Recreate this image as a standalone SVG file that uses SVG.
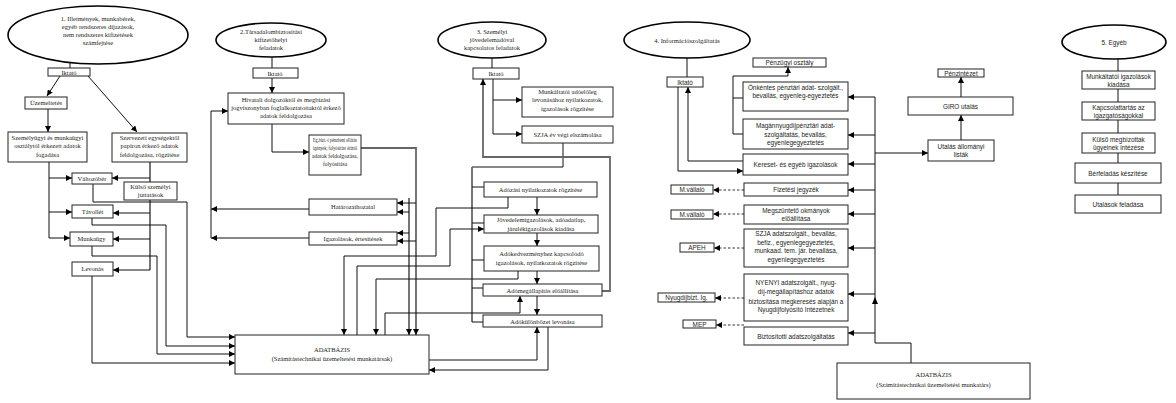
<svg xmlns="http://www.w3.org/2000/svg" width="1176" height="403" viewBox="0 0 1176 403">
<style>
.bg{fill:#fff}
.b{fill:#fff;stroke:#222;stroke-width:1}
.e{fill:#fff;stroke:#000;stroke-width:1.6}
.c{fill:none;stroke:#111;stroke-width:1}
.t{fill:none;stroke:#666;stroke-width:1.8}
.d{fill:none;stroke:#333;stroke-width:1;stroke-dasharray:2.5,2}
.s{font-family:"Liberation Serif","Times New Roman",serif;font-size:6.5px;fill:#222;text-anchor:middle}
.n{font-family:"Liberation Sans",Arial,sans-serif;font-size:6.4px;fill:#222;text-anchor:middle}
</style>
<defs>
<marker id="a" viewBox="0 0 10 10" refX="10" refY="5" markerWidth="6" markerHeight="6" markerUnits="userSpaceOnUse" orient="auto"><path d="M0,0 L10,5 L0,10 z" fill="#000"/></marker>
</defs>
<rect class="bg" x="0" y="0" width="1176" height="403"/>

<g id="connectors">
<!-- section 1 -->
<path class="c" d="M70,62 V68"/>
<path class="c" d="M60,76 L47,96" marker-end="url(#a)"/>
<path class="c" d="M88,76 L137,132" marker-end="url(#a)"/>
<path class="c" d="M48,109 V132" marker-end="url(#a)"/>
<path class="c" d="M49,162 V238"/>
<path class="c" d="M49,178 H72" marker-end="url(#a)"/>
<path class="c" d="M49,212 H72" marker-end="url(#a)"/>
<path class="c" d="M49,238 H70" marker-end="url(#a)"/>
<path class="t" d="M150,162 V270"/>
<path class="c" d="M150,178 H112" marker-end="url(#a)"/>
<path class="c" d="M150,213 H113" marker-end="url(#a)"/>
<path class="c" d="M150,239 H113" marker-end="url(#a)"/>
<path class="c" d="M150,270 H113" marker-end="url(#a)"/>
<path class="c" d="M93,184 V202 H187 V337 H235" marker-end="url(#a)"/>
<path class="c" d="M92,218 V225 H166 V346 H235" marker-end="url(#a)"/>
<path class="c" d="M92,246 V256 H157 V354 H235" marker-end="url(#a)"/>
<path class="c" d="M92,276 V363 H235" marker-end="url(#a)"/>
<!-- section 2 -->
<path class="c" d="M272,57 V68"/>
<path class="c" d="M272,78 V93" marker-end="url(#a)"/>
<path class="c" d="M272,124 V152 H309" marker-end="url(#a)"/>
<path class="t" d="M361,148 H416 V335" marker-end="url(#a)"/>
<path class="t" d="M409,198 V335" marker-end="url(#a)"/>
<path class="c" d="M416,203 H397" marker-end="url(#a)"/>
<path class="c" d="M409,212 H397" marker-end="url(#a)"/>
<path class="c" d="M409,233 H397" marker-end="url(#a)"/>
<path class="c" d="M416,241 H397" marker-end="url(#a)"/>
<path class="c" d="M309,209 H211" marker-end="url(#a)"/>
<path class="c" d="M309,238 H211" marker-end="url(#a)"/>
<path class="c" d="M211,238 V111 H228" marker-end="url(#a)"/>
<!-- section 3 -->
<path class="c" d="M492,58 V68"/>
<path class="c" d="M493,79 V134"/>
<path class="c" d="M493,100 H522" marker-end="url(#a)"/>
<path class="c" d="M493,134 H522" marker-end="url(#a)"/>
<path class="c" d="M563,143 V167 H472"/>
<path class="t" d="M472,167 V322"/>
<path class="c" d="M472,187 H484 M472,223 H484 M472,260 H484 M472,288 H483 M472,322 H483"/>
<path class="t" d="M602,291 H610 V157 H483 V79" marker-end="url(#a)"/>
<path class="c" d="M537,197 V215" marker-end="url(#a)"/>
<path class="c" d="M537,233 V246" marker-end="url(#a)"/>
<path class="c" d="M537,271 V284" marker-end="url(#a)"/>
<path class="c" d="M537,296 V315" marker-end="url(#a)"/>
<path class="c" d="M508,197 V208 H436 V256 H344 V335" marker-end="url(#a)"/>
<path class="c" d="M518,271 V279 H376 V335" marker-end="url(#a)"/>
<path class="c" d="M357,335 V266 H450 V229 H484" marker-end="url(#a)"/>
<path class="c" d="M385,335 V313 H520 V296" marker-end="url(#a)"/>
<path class="c" d="M429,360 H537 V327" marker-end="url(#a)"/>
<path class="c" d="M548,327 V370 H429" marker-end="url(#a)"/>
<!-- section 4 -->
<path class="c" d="M687,58 V77"/>
<path class="c" d="M678,87 V171 H743" marker-end="url(#a)"/>
<path class="c" d="M743,161 H688 V87" marker-end="url(#a)"/>
<path class="c" d="M733,134 V76 H788 V67" marker-end="url(#a)"/>
<path class="c" d="M733,98 H743 M733,134 H743"/>
<path class="d" d="M744,190 H713" marker-end="url(#a)"/>
<path class="d" d="M744,214 H713" marker-end="url(#a)"/>
<path class="d" d="M744,248 H714" marker-end="url(#a)"/>
<path class="d" d="M744,298 H715" marker-end="url(#a)"/>
<path class="d" d="M744,325 H716" marker-end="url(#a)"/>
<path class="c" d="M911,363 V343 H875 V97"/>
<path d="M875,297 L878,304 L872,304 z" fill="#000"/>
<path class="c" d="M875,97 H848" marker-end="url(#a)"/>
<path class="c" d="M875,135 H848" marker-end="url(#a)"/>
<path class="c" d="M875,164 H848" marker-end="url(#a)"/>
<path class="c" d="M875,190 H848" marker-end="url(#a)"/>
<path class="c" d="M875,214 H848" marker-end="url(#a)"/>
<path class="c" d="M875,248 H848" marker-end="url(#a)"/>
<path class="c" d="M875,294 H848" marker-end="url(#a)"/>
<path class="c" d="M875,333 H848" marker-end="url(#a)"/>
<path class="c" d="M875,153 H928" marker-end="url(#a)"/>
<path class="c" d="M961,140 V115" marker-end="url(#a)"/>
<path class="c" d="M961,97 V77" marker-end="url(#a)"/>
<!-- section 5 -->
<path class="c" d="M1118,59 V195"/>
</g>

<!-- Section 1 -->
<g id="ell1"><ellipse class="e" cx="98" cy="35" rx="90" ry="29"/>
<text class="s"><tspan x="98" y="21">1. Illetmények, munkabérek,</tspan><tspan x="98" y="29">egyéb rendszeres díjazások,</tspan><tspan x="98" y="37">nem rendszeres kifizetések</tspan><tspan x="98" y="45">számfejtése</tspan></text></g>
<g id="iktato1"><rect class="b" x="48" y="68" width="42" height="8"/><text class="s" x="69" y="74.5">Iktató</text></g>
<g id="uzem"><rect class="b" x="25" y="97" width="42" height="12"/><text class="s" x="46" y="105">Üzemeltetés</text></g>
<g id="szemely"><rect class="b" x="8" y="132" width="79" height="30"/><text class="s"><tspan x="47.5" y="140">Személyügyi és munkaügyi</tspan><tspan x="47.5" y="148">osztálytól érkezett adatok</tspan><tspan x="47.5" y="157">fogadása</tspan></text></g>
<g id="szervezeti"><rect class="b" x="112" y="133" width="75" height="29"/><text class="s"><tspan x="149.5" y="140">Szervezeti egységektől</tspan><tspan x="149.5" y="148">papíron érkező adatok</tspan><tspan x="149.5" y="157">feldolgozása, rögzítése</tspan></text></g>
<g id="valtozober"><rect class="b" x="72" y="173" width="40" height="11"/><text class="s" x="92" y="181">Változóbér</text></g>
<g id="kulso"><rect class="b" x="124" y="182" width="53" height="18"/><text class="s"><tspan x="150.5" y="189">Külső személyi</tspan><tspan x="150.5" y="197">juttatások</tspan></text></g>
<g id="tavollet"><rect class="b" x="72" y="205" width="41" height="13"/><text class="s" x="92.5" y="214">Távollét</text></g>
<g id="munkaugy"><rect class="b" x="70" y="232" width="43" height="14"/><text class="s" x="91.5" y="241">Munkaügy</text></g>
<g id="levonas"><rect class="b" x="72" y="262" width="41" height="14"/><text class="s" x="92.5" y="271">Levonás</text></g>
<g id="adatbazis1"><rect class="b" x="235" y="335" width="194" height="39"/><text class="s"><tspan x="332" y="352">ADATBÁZIS</tspan><tspan x="332" y="361">(Számítástechnikai üzemeltetési munkatársak)</tspan></text></g>

<!-- Section 2 -->
<g id="ell2"><ellipse class="e" cx="271" cy="40" rx="55" ry="17"/>
<text class="s"><tspan x="271" y="34">2.Társadalombiztosítási</tspan><tspan x="271" y="42">kifizetőhelyi</tspan><tspan x="271" y="50">feladatok</tspan></text></g>
<g id="iktato2"><rect class="b" x="253" y="68" width="45" height="10"/><text class="s" x="275" y="75.5">Iktató</text></g>
<g id="hivatali"><rect class="b" x="228" y="93" width="116" height="31"/><text class="s"><tspan x="286" y="102">Hivatali dolgozóktól és megbízási</tspan><tspan x="286" y="110">jogviszonyban foglalkoztatottaktól érkező</tspan><tspan x="286" y="118">adatok feldolgozása</tspan></text></g>
<g id="egbizt"><rect class="b" x="309" y="135" width="52" height="40"/><text class="s" style="font-size:5.6px"><tspan x="335" y="142" textLength="44" lengthAdjust="spacingAndGlyphs">Eg.bizt.-i pénzbeni ellátás</tspan><tspan x="335" y="150" textLength="44" lengthAdjust="spacingAndGlyphs">igények; folyósítást érintő</tspan><tspan x="335" y="158">adatok feldolgozása,</tspan><tspan x="335" y="166">folyósítása</tspan></text></g>
<g id="hatarozat"><rect class="b" x="309" y="199" width="88" height="16"/><text class="s" x="353" y="209">Határozathozatal</text></g>
<g id="igazolasok"><rect class="b" x="309" y="232" width="88" height="13"/><text class="s" x="353" y="240.5">Igazolások, értesítések</text></g>

<!-- Section 3 -->
<g id="ell3"><ellipse class="e" cx="492" cy="40" rx="54" ry="18"/>
<text class="s"><tspan x="492" y="34">3. Személyi</tspan><tspan x="492" y="42">jövedelemadóval</tspan><tspan x="492" y="50">kapcsolatos feladatok</tspan></text></g>
<g id="iktato3"><rect class="b" x="473" y="68" width="46" height="11"/><text class="s" x="496" y="76">Iktató</text></g>
<g id="munkaltatoi"><rect class="b" x="522" y="87" width="91" height="30"/><text class="s"><tspan x="567.5" y="94">Munkáltatói adóelőleg</tspan><tspan x="567.5" y="102">levonásához nyilatkozatok,</tspan><tspan x="567.5" y="111">igazolások rögzítése</tspan></text></g>
<g id="szjaev"><rect class="b" x="522" y="126" width="91" height="17"/><text class="s" x="567.5" y="136.5">SZJA év végi elszámolása</text></g>
<g id="adozasi"><rect class="b" x="484" y="182" width="113" height="15"/><text class="s" x="540.5" y="191.5">Adózási nyilatkozatok rögzítése</text></g>
<g id="jovedelem"><rect class="b" x="484" y="215" width="114" height="18"/><text class="s"><tspan x="541" y="222">Jövedelemigazolások, adóadatlap,</tspan><tspan x="541" y="230.5">járulékigazolások kiadása</tspan></text></g>
<g id="adokedv"><rect class="b" x="484" y="246" width="115" height="25"/><text class="s"><tspan x="541.5" y="256">Adókedvezményhez kapcsolódó</tspan><tspan x="541.5" y="265">igazolások, nyilatkozatok rögzítése</tspan></text></g>
<g id="adomeg"><rect class="b" x="483" y="284" width="119" height="12"/><text class="s" x="542.5" y="292.5">Adómegállapítás előállítása</text></g>
<g id="adokul"><rect class="b" x="483" y="315" width="119" height="12"/><text class="s" x="542.5" y="323.5">Adókülönbözet levonása</text></g>

<!-- Section 4 -->
<g id="ell4"><ellipse class="e" cx="687" cy="40" rx="63" ry="18"/><text class="s" x="687" y="43">4. Információszolgáltatás</text></g>
<g id="iktato4"><rect class="b" x="667" y="77" width="36" height="10"/><text class="n" x="685" y="84.5">Iktató</text></g>
<g id="penzugyi"><rect class="b" x="753" y="58" width="73" height="9"/><text class="n" x="789.5" y="65">Pénzügyi osztály</text></g>
<g id="onkentes"><rect class="b" x="743" y="82" width="105" height="29"/><text class="n"><tspan x="795.5" y="90">Önkéntes pénztári adat- szolgált.,</tspan><tspan x="795.5" y="98">bevallás, egyenleg-egyeztetés</tspan></text></g>
<g id="magan"><rect class="b" x="743" y="119" width="105" height="30"/><text class="n"><tspan x="795.5" y="128">Magánnyugdíjpénztári adat-</tspan><tspan x="795.5" y="137">szolgáltatás, bevallás,</tspan><tspan x="795.5" y="145">egyenlegegyeztetés</tspan></text></g>
<g id="kereset"><rect class="b" x="743" y="154" width="105" height="21"/><text class="n" x="795.5" y="167">Kereset- és egyéb igazolások</text></g>
<g id="fizetesi"><rect class="b" x="744" y="183" width="104" height="13"/><text class="n" x="796" y="192">Fizetési jegyzék</text></g>
<g id="megszunteto"><rect class="b" x="744" y="205" width="104" height="19"/><text class="n"><tspan x="796" y="213">Megszüntető okmányok</tspan><tspan x="796" y="221">előállítása</tspan></text></g>
<g id="szjaadat"><rect class="b" x="744" y="229" width="104" height="38"/><text class="n"><tspan x="796" y="236">SZJA adatszolgált., bevallás,</tspan><tspan x="796" y="244.5">befiz., egyenlegegyeztetés,</tspan><tspan x="796" y="253">munkaad. tem. jár. bevallása,</tspan><tspan x="796" y="261.5">egyenlegegyeztetés</tspan></text></g>
<g id="nyenyi"><rect class="b" x="744" y="274" width="104" height="47"/><text class="n"><tspan x="796" y="285">NYENYI adatszolgált., nyug-</tspan><tspan x="796" y="294">díj-megállapításhoz adatok</tspan><tspan x="796" y="303.5">biztosítása megkeresés alapján a</tspan><tspan x="796" y="312">Nyugdíjfolyósító Intézetnek</tspan></text></g>
<g id="biztositotti"><rect class="b" x="744" y="327" width="104" height="18"/><text class="n" x="796" y="338.5">Biztosítotti adatszolgáltatás</text></g>
<g id="mvallalo1"><rect class="b" x="671" y="185" width="42" height="9"/><text class="n" x="692" y="192">M.vállaló</text></g>
<g id="mvallalo2"><rect class="b" x="671" y="210" width="42" height="9"/><text class="n" x="692" y="217">M.vállaló</text></g>
<g id="apeh"><rect class="b" x="680" y="243" width="34" height="9"/><text class="n" x="697" y="250">APEH</text></g>
<g id="nyugdij"><rect class="b" x="658" y="293" width="57" height="9"/><text class="n" x="686.5" y="300">Nyugdíjbizt. Ig.</text></g>
<g id="mep"><rect class="b" x="683" y="320" width="33" height="8"/><text class="n" x="699.5" y="326.5">MEP</text></g>
<g id="penzintezet"><rect class="b" x="938" y="69" width="46" height="8"/><text class="n" x="961" y="75.5">Pénzintézet</text></g>
<g id="giro"><rect class="b" x="908" y="97" width="105" height="18"/><text class="n" x="960.5" y="108.5">GIRO utalás</text></g>
<g id="utalaslista"><rect class="b" x="928" y="140" width="66" height="21"/><text class="n"><tspan x="961" y="148.5">Utalás állományi</tspan><tspan x="961" y="157">listák</tspan></text></g>
<g id="adatbazis2"><rect class="b" x="837" y="363" width="193" height="36"/><text class="s"><tspan x="933.5" y="377">ADATBÁZIS</tspan><tspan x="933.5" y="387">(Számítástechnikai üzemeltetési munkatárs)</tspan></text></g>

<!-- Section 5 -->
<g id="ell5"><ellipse class="e" cx="1114" cy="42" rx="52" ry="17"/><text class="n" x="1114" y="45">5. Egyéb</text></g>
<g id="munkigaz"><rect class="b" x="1082" y="71" width="73" height="18"/><text class="n"><tspan x="1118.5" y="78.5">Munkáltatói igazolások</tspan><tspan x="1118.5" y="86.5">kiadása</tspan></text></g>
<g id="kapcsolat"><rect class="b" x="1082" y="102" width="73" height="18"/><text class="n"><tspan x="1118.5" y="109.5">Kapcsolattartás az</tspan><tspan x="1118.5" y="117.5">igazgatóságokkal</tspan></text></g>
<g id="kulsomegb"><rect class="b" x="1082" y="133" width="73" height="20"/><text class="n"><tspan x="1118.5" y="141.5">Külső megbízottak</tspan><tspan x="1118.5" y="149.5">ügyeinek intézése</tspan></text></g>
<g id="berfeladas"><rect class="b" x="1075" y="163" width="86" height="20"/><text class="n" x="1118" y="175.5">Bérfeladás készítése</text></g>
<g id="utalasok"><rect class="b" x="1075" y="195" width="86" height="18"/><text class="n" x="1118" y="206.5">Utalások feladása</text></g>
</svg>
